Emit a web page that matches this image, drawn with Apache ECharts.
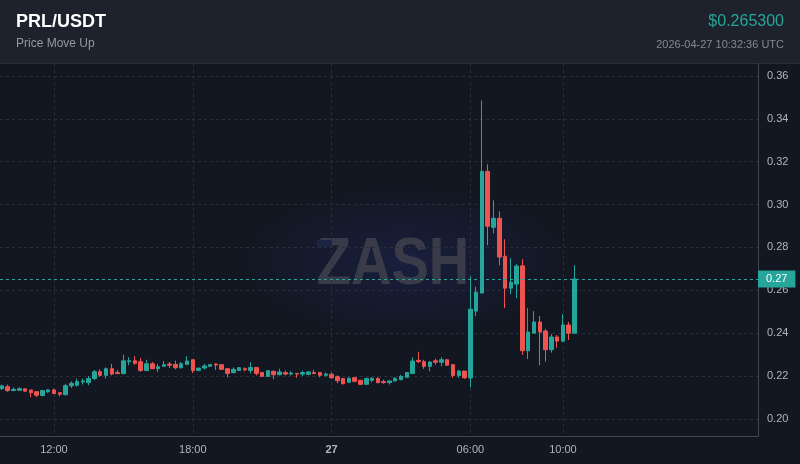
<!DOCTYPE html>
<html>
<head>
<meta charset="utf-8">
<title>PRL/USDT</title>
<script src="https://cdn.jsdelivr.net/npm/echarts@6/dist/echarts.min.js"></script>
<style>
  html, body { margin: 0; padding: 0; background: #131722; }
  #chart { width: 800px; height: 464px; }
</style>
</head>
<body>
<div id="chart"></div>
<script>
// 15 minute candles, first one at 2026-04-26 09:45 UTC
var startTime = Date.UTC(2026, 3, 26, 9, 45)
var stepMs = 15 * 60 * 1000

var open = [
  0.2141, 0.2150, 0.2132, 0.2133, 0.2140, 0.2135, 0.2127, 0.2109, 0.2126, 0.2135,
  0.2122, 0.2113, 0.2154, 0.2157, 0.2172, 0.2169, 0.2188, 0.2220, 0.2203, 0.2234,
  0.2216, 0.2211, 0.2267, 0.2271, 0.2267, 0.2226, 0.2257, 0.2234, 0.2245, 0.2256,
  0.2254, 0.2239, 0.2254, 0.2276, 0.2226, 0.2237, 0.2245, 0.2256, 0.2253, 0.2234,
  0.2216, 0.2226, 0.2234, 0.2226, 0.2240, 0.2216, 0.2198, 0.2222, 0.2206, 0.2216,
  0.2209, 0.2212, 0.2209, 0.2208, 0.2216, 0.2216, 0.2203, 0.2208, 0.2197, 0.2188,
  0.2171, 0.2192, 0.2180, 0.2161, 0.2180, 0.2188, 0.2174, 0.2169, 0.2177, 0.2183,
  0.2194, 0.2212, 0.2273, 0.2267, 0.2245, 0.2271, 0.2264, 0.2276, 0.2253, 0.2202,
  0.2223, 0.2191, 0.2503, 0.2587, 0.3155, 0.2894, 0.2936, 0.2759, 0.2610, 0.2629,
  0.2714, 0.2318, 0.2400, 0.2452, 0.2410, 0.2323, 0.2382, 0.2363, 0.2438, 0.2400
]
var close = [
  0.2154, 0.2132, 0.2138, 0.2141, 0.2129, 0.2122, 0.2110, 0.2132, 0.2135, 0.2118,
  0.2115, 0.2155, 0.2166, 0.2174, 0.2177, 0.2188, 0.2220, 0.2203, 0.2234, 0.2209,
  0.2211, 0.2271, 0.2271, 0.2259, 0.2226, 0.2257, 0.2234, 0.2243, 0.2253, 0.2250,
  0.2239, 0.2257, 0.2270, 0.2226, 0.2237, 0.2247, 0.2253, 0.2251, 0.2231, 0.2212,
  0.2231, 0.2239, 0.2229, 0.2240, 0.2212, 0.2198, 0.2225, 0.2206, 0.2219, 0.2209,
  0.2214, 0.2209, 0.2216, 0.2219, 0.2211, 0.2203, 0.2209, 0.2192, 0.2178, 0.2164,
  0.2189, 0.2175, 0.2161, 0.2189, 0.2189, 0.2169, 0.2169, 0.2177, 0.2189, 0.2198,
  0.2216, 0.2270, 0.2267, 0.2245, 0.2265, 0.2264, 0.2276, 0.2250, 0.2202, 0.2223,
  0.2192, 0.2512, 0.2591, 0.3155, 0.2899, 0.2936, 0.2755, 0.2610, 0.2638, 0.2713,
  0.2318, 0.2405, 0.2452, 0.2405, 0.2323, 0.2382, 0.2363, 0.2438, 0.2400, 0.2653
]
var low = [
  0.2135, 0.2126, 0.2129, 0.2130, 0.2126, 0.2101, 0.2101, 0.2105, 0.2122, 0.2115,
  0.2105, 0.2109, 0.2144, 0.2150, 0.2160, 0.2157, 0.2180, 0.2197, 0.2188, 0.2203,
  0.2211, 0.2208, 0.2250, 0.2253, 0.2219, 0.2222, 0.2234, 0.2219, 0.2245, 0.2237,
  0.2231, 0.2234, 0.2254, 0.2214, 0.2222, 0.2231, 0.2242, 0.2228, 0.2228, 0.2194,
  0.2211, 0.2223, 0.2222, 0.2212, 0.2203, 0.2198, 0.2198, 0.2185, 0.2203, 0.2203,
  0.2203, 0.2191, 0.2200, 0.2203, 0.2211, 0.2194, 0.2197, 0.2186, 0.2166, 0.2160,
  0.2167, 0.2171, 0.2161, 0.2161, 0.2171, 0.2166, 0.2164, 0.2160, 0.2175, 0.2180,
  0.2194, 0.2212, 0.2260, 0.2233, 0.2222, 0.2253, 0.2245, 0.2250, 0.2192, 0.2191,
  0.2186, 0.2147, 0.2480, 0.2587, 0.2810, 0.2866, 0.2717, 0.2517, 0.2582, 0.2563,
  0.2298, 0.2279, 0.2400, 0.2251, 0.2267, 0.2309, 0.2332, 0.2358, 0.2368, 0.2400
]
var high = [
  0.2160, 0.2160, 0.2147, 0.2147, 0.2140, 0.2135, 0.2129, 0.2132, 0.2138, 0.2141,
  0.2122, 0.2163, 0.2175, 0.2188, 0.2188, 0.2200, 0.2228, 0.2231, 0.2240, 0.2257,
  0.2228, 0.2299, 0.2288, 0.2293, 0.2284, 0.2276, 0.2265, 0.2256, 0.2270, 0.2265,
  0.2271, 0.2265, 0.2293, 0.2276, 0.2237, 0.2257, 0.2253, 0.2259, 0.2253, 0.2237,
  0.2240, 0.2239, 0.2240, 0.2264, 0.2240, 0.2219, 0.2225, 0.2225, 0.2234, 0.2225,
  0.2222, 0.2212, 0.2225, 0.2222, 0.2229, 0.2216, 0.2216, 0.2216, 0.2203, 0.2191,
  0.2195, 0.2192, 0.2180, 0.2189, 0.2195, 0.2195, 0.2183, 0.2177, 0.2195, 0.2205,
  0.2216, 0.2288, 0.2313, 0.2276, 0.2270, 0.2281, 0.2288, 0.2276, 0.2253, 0.2229,
  0.2223, 0.2665, 0.2616, 0.3486, 0.3188, 0.3020, 0.2969, 0.2838, 0.2750, 0.2722,
  0.2745, 0.2517, 0.2503, 0.2480, 0.2419, 0.2396, 0.2391, 0.2489, 0.2452, 0.2717
]

var priceTicks = [0.20, 0.22, 0.24, 0.26, 0.28, 0.30, 0.32, 0.34, 0.36]
var timeTicks = [
  Date.UTC(2026, 3, 26, 12), Date.UTC(2026, 3, 26, 18), Date.UTC(2026, 3, 27, 0),
  Date.UTC(2026, 3, 27, 6), Date.UTC(2026, 3, 27, 10)
]
var lastPrice = 0.2653

var up = '#26a69a'
var down = '#ef5350'
var font = '"Liberation Sans", Arial, sans-serif'

var candles = open.map(function (o, i) {
  return [startTime + i * stepMs, o, close[i], low[i], high[i]]
})

var myChart = echarts.init(document.getElementById('chart'))
myChart.setOption({
  animation: false,
  backgroundColor: '#131722',
  textStyle: { fontFamily: font },
  grid: { left: 0, right: 42, top: 64, bottom: 28 },
  graphic: [
    {
      type: 'circle',
      shape: { cx: 405, cy: 262, r: 160 },
      scaleY: 0.46,
      originY: 262,
      originX: 405,
      style: {
        fill: {
          type: 'radial', x: 0.5, y: 0.5, r: 0.5,
          colorStops: [{ offset: 0, color: 'rgba(32,40,95,0.45)' }, { offset: 1, color: 'rgba(32,40,95,0)' }]
        }
      },
      silent: true,
      z: -5
    },
    {
      // watermark, drawn a little narrower than the font
      type: 'text',
      x: 393,
      y: 266,
      scaleX: 0.85,
      style: {
        text: 'ZASH',
        fill: '#393c48',
        font: 'bold 66px ' + font,
        align: 'center',
        verticalAlign: 'middle'
      },
      silent: true,
      z: -4
    },
    {
      type: 'rect',
      shape: { x: 317, y: 240, width: 15, height: 7 },
      style: { fill: '#1c2446' },
      silent: true,
      z: -3
    },
    {
      type: 'rect',
      shape: { x: 0, y: 0, width: 800, height: 63 },
      style: { fill: '#1e222d' },
      silent: true
    },
    {
      type: 'line',
      shape: { x1: 0, y1: 63.5, x2: 800, y2: 63.5 },
      style: { stroke: '#2a2e39', lineWidth: 1 },
      silent: true
    },
    {
      type: 'text', x: 16, y: 22,
      style: { text: 'PRL/USDT', fill: '#ffffff', font: 'bold 18px ' + font, verticalAlign: 'middle' }
    },
    {
      type: 'text', x: 16, y: 44,
      style: { text: 'Price Move Up', fill: '#9598a1', font: '12px ' + font, verticalAlign: 'middle' }
    },
    {
      type: 'text', x: 784, y: 22,
      style: { text: '$0.265300', fill: up, font: '16px ' + font, align: 'right', verticalAlign: 'middle' }
    },
    {
      type: 'text', x: 784, y: 45,
      style: { text: '2026-04-27 10:32:36 UTC', fill: '#868993', font: '11px ' + font, align: 'right', verticalAlign: 'middle' }
    }
  ],
  xAxis: {
    type: 'value',
    min: Date.UTC(2026, 3, 26, 9, 40),
    max: Date.UTC(2026, 3, 27, 18, 26),
    axisLine: { lineStyle: { color: '#434651' } },
    axisTick: { show: false, customValues: timeTicks },
    axisLabel: {
      customValues: timeTicks,
      color: '#b2b5be',
      fontSize: 11,
      margin: 8,
      formatter: function (value) {
        var d = new Date(value)
        var h = d.getUTCHours()
        if (h === 0) return '{b|' + d.getUTCDate() + '}'
        return (h < 10 ? '0' : '') + h + ':00'
      },
      rich: { b: { fontWeight: 'bold', fontSize: 11, color: '#b2b5be' } }
    },
    splitLine: { show: true, lineStyle: { color: '#2a2e39', type: [3, 3] } }
  },
  yAxis: {
    type: 'value',
    position: 'right',
    min: 0.192,
    max: 0.3656,
    axisLine: { show: true, lineStyle: { color: '#434651' } },
    axisTick: { show: false, customValues: priceTicks },
    axisLabel: {
      customValues: priceTicks,
      color: '#b2b5be',
      fontSize: 11,
      margin: 9,
      formatter: function (v) { return v.toFixed(2) }
    },
    splitLine: { show: true, lineStyle: { color: '#2a2e39', type: [3, 3] } }
  },
  series: [
    {
      name: 'PRL/USDT',
      type: 'candlestick',
      data: candles,
      barWidth: 4,
      itemStyle: {
        color: up,
        color0: down,
        borderColor: up,
        borderColor0: down,
        borderWidth: 1
      },
      markLine: {
        silent: true,
        precision: 6,
        symbol: ['none', 'none'],
        lineStyle: { color: up, type: [3, 3], width: 1 },
        label: {
          position: 'end',
          distance: 0,
          formatter: function (p) { return p.value.toFixed(2) },
          backgroundColor: up,
          color: '#ffffff',
          fontSize: 11,
          padding: [3, 8, 3, 8]
        },
        data: [{ yAxis: lastPrice }]
      }
    }
  ]
})
</script>
</body>
</html>
